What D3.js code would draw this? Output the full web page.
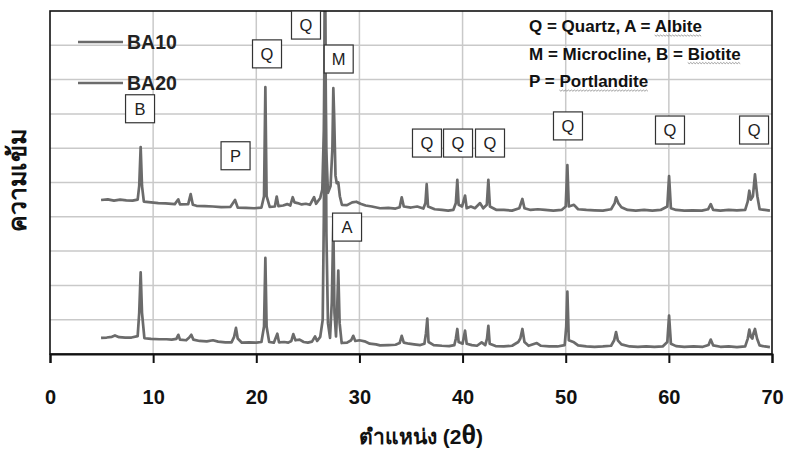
<!DOCTYPE html>
<html>
<head>
<meta charset="utf-8">
<script src="https://cdn.jsdelivr.net/npm/d3@7"></script>
<style>
  body { margin: 0; background: #fff; }
  svg text { font-family: "Liberation Sans", Arial, sans-serif; }
</style>
</head>
<body>
<div id="chart"></div>
<script>
// XRD patterns, [2theta, intensity] (intensity in grid units, BA10 is offset upward)
var ba10 = [[4.95,4.49],[5.6,4.51],[6.2,4.47],[6.8,4.5],[7.4,4.48],[8.0,4.47],[8.5,4.5],[8.65,4.9],[8.79,6.03],[8.92,4.9],[9.1,4.44],[9.8,4.42],[10.5,4.4],[11.2,4.39],[12.1,4.37],[12.44,4.51],[12.6,4.36],[13.4,4.37],[13.64,4.66],[13.85,4.35],[14.2,4.32],[15.0,4.31],[15.8,4.3],[16.6,4.28],[17.5,4.29],[17.94,4.49],[18.2,4.27],[19.0,4.26],[19.8,4.25],[20.5,4.27],[20.75,4.6],[20.88,7.78],[21.0,4.6],[21.3,4.29],[21.8,4.3],[21.98,4.59],[22.15,4.31],[22.6,4.33],[23.0,4.37],[23.3,4.33],[23.53,4.57],[23.7,4.42],[24.0,4.4],[24.4,4.36],[24.8,4.38],[25.2,4.35],[25.6,4.57],[25.8,4.38],[26.2,4.55],[26.4,4.79],[26.55,6.5],[26.66,10.6],[26.78,6.0],[26.95,4.7],[27.2,4.9],[27.38,6.0],[27.47,7.75],[27.55,6.92],[27.68,5.2],[27.8,4.98],[27.95,5.0],[28.1,4.6],[28.3,4.35],[28.8,4.34],[29.3,4.42],[29.7,4.44],[30.1,4.38],[30.6,4.33],[31.2,4.3],[32.0,4.25],[32.8,4.26],[33.5,4.24],[33.9,4.28],[34.1,4.57],[34.3,4.3],[35.0,4.27],[35.6,4.3],[36.2,4.24],[36.4,4.4],[36.52,4.95],[36.65,4.3],[37.3,4.22],[38.0,4.2],[38.6,4.18],[39.1,4.2],[39.35,4.4],[39.49,5.08],[39.62,4.35],[39.95,4.3],[40.24,4.62],[40.4,4.25],[40.8,4.3],[41.2,4.25],[41.7,4.4],[42.0,4.25],[42.35,4.35],[42.5,5.08],[42.65,4.3],[43.3,4.2],[44.0,4.2],[44.8,4.18],[45.5,4.25],[45.8,4.52],[46.0,4.25],[46.6,4.2],[47.3,4.22],[48.0,4.2],[48.8,4.18],[49.6,4.2],[50.0,4.3],[50.16,5.51],[50.3,4.3],[50.8,4.35],[51.2,4.22],[52.0,4.2],[52.8,4.19],[53.6,4.18],[54.4,4.22],[54.75,4.4],[54.88,4.57],[55.1,4.4],[55.4,4.28],[56.0,4.2],[56.8,4.18],[57.6,4.2],[58.4,4.18],[59.2,4.2],[59.85,4.3],[60.02,5.19],[60.2,4.25],[60.7,4.2],[61.5,4.18],[62.3,4.19],[63.2,4.18],[63.8,4.22],[64.06,4.37],[64.3,4.2],[65.0,4.18],[65.8,4.2],[66.6,4.19],[67.4,4.2],[67.65,4.45],[67.8,4.76],[67.95,4.5],[68.15,4.6],[68.35,5.24],[68.5,4.8],[68.58,4.6],[68.8,4.22],[69.3,4.2],[69.8,4.18]];

var ba20 = [[4.95,0.47],[5.5,0.48],[6.0,0.5],[6.3,0.54],[6.7,0.49],[7.3,0.48],[7.9,0.48],[8.5,0.52],[8.65,1.2],[8.79,2.38],[8.92,1.2],[9.15,0.46],[9.8,0.44],[10.6,0.43],[11.3,0.43],[11.8,0.42],[12.25,0.44],[12.44,0.56],[12.6,0.42],[13.2,0.4],[13.5,0.48],[13.7,0.56],[13.9,0.42],[14.5,0.38],[15.2,0.37],[15.8,0.4],[16.3,0.36],[17.0,0.34],[17.6,0.34],[17.85,0.5],[18.03,0.76],[18.2,0.45],[18.6,0.33],[19.3,0.34],[20.0,0.33],[20.5,0.35],[20.75,0.8],[20.88,2.8],[21.0,0.8],[21.25,0.35],[21.7,0.33],[22.04,0.59],[22.2,0.34],[22.7,0.35],[23.1,0.33],[23.4,0.38],[23.59,0.58],[23.8,0.4],[24.2,0.42],[24.6,0.35],[25.0,0.33],[25.4,0.36],[25.7,0.51],[25.9,0.38],[26.2,0.5],[26.44,1.0],[26.55,4.0],[26.66,10.6],[26.8,3.5],[26.95,0.9],[27.15,0.47],[27.32,1.5],[27.47,3.8],[27.58,1.2],[27.73,0.51],[27.85,1.4],[27.95,2.43],[28.08,0.9],[28.28,0.32],[28.8,0.33],[29.2,0.4],[29.4,0.53],[29.6,0.38],[30.0,0.4],[30.5,0.37],[31.0,0.3],[31.6,0.28],[32.0,0.25],[32.8,0.26],[33.5,0.27],[33.9,0.32],[34.1,0.53],[34.3,0.33],[34.8,0.3],[35.3,0.28],[35.9,0.26],[36.3,0.3],[36.45,0.6],[36.58,1.03],[36.7,0.35],[37.2,0.26],[38.0,0.24],[38.7,0.23],[39.2,0.26],[39.35,0.45],[39.49,0.73],[39.62,0.35],[40.0,0.3],[40.24,0.68],[40.4,0.3],[40.9,0.26],[41.4,0.24],[41.85,0.34],[42.2,0.26],[42.37,0.45],[42.5,0.82],[42.63,0.3],[43.2,0.23],[44.0,0.22],[44.8,0.24],[45.4,0.35],[45.6,0.45],[45.8,0.73],[46.0,0.35],[46.4,0.24],[47.2,0.32],[47.6,0.24],[48.4,0.22],[49.2,0.22],[49.9,0.26],[50.05,0.8],[50.16,1.82],[50.3,0.4],[50.8,0.34],[51.2,0.25],[52.0,0.22],[52.8,0.21],[53.6,0.22],[54.4,0.24],[54.7,0.4],[54.88,0.64],[55.05,0.4],[55.4,0.28],[56.2,0.22],[57.0,0.21],[57.8,0.22],[58.6,0.21],[59.4,0.22],[59.85,0.35],[60.02,1.12],[60.2,0.3],[60.7,0.23],[61.5,0.21],[62.4,0.22],[63.3,0.21],[63.85,0.26],[64.06,0.42],[64.3,0.25],[65.0,0.21],[65.8,0.22],[66.6,0.2],[67.4,0.22],[67.65,0.45],[67.8,0.71],[67.95,0.5],[68.1,0.45],[68.2,0.6],[68.35,0.73],[68.55,0.45],[68.8,0.25],[69.3,0.22],[69.8,0.2]];

var seriesNames = ["BA10", "BA20"];
var xTicks = [0, 10, 20, 30, 40, 50, 60, 70];

// phase letters, anchored at [2theta, intensity]
var phaseLetters = ["B", "P", "Q", "Q", "M", "A", "Q", "Q", "Q", "Q", "Q", "Q"];
var phaseAt = [[8.73,7.15],[17.99,5.78],[21.04,8.75],[24.82,9.59],[27.99,8.60],[28.8,3.70],[36.55,6.15],[39.56,6.15],[42.66,6.15],[50.22,6.65],[60.11,6.53],[68.26,6.53]];

// key text, pieces with a spell-check squiggle are flagged
var keyLines = [
  [["Q = Quartz, A = ", false], ["Albite", true]],
  [["M = Microcline, B = ", false], ["Biotite", true]],
  [["P = ", false], ["Portlandite", true]]
];

var W = 786, H = 460;
var margin = {left: 50, right: 14, top: 11, bottom: 106};
var lineColour = "#6b6b6b";

var svg = d3.select("#chart").append("svg").attr("width", W).attr("height", H);

var x = d3.scaleLinear().domain([0, 70]).range([margin.left, W - margin.right]);
var y = d3.scaleLinear().domain([0, 10]).range([H - margin.bottom, margin.top]);

//Gridlines
svg.append("g").selectAll("line.hg").data(d3.range(1, 10)).enter().append("line")
   .attr("x1", x(0)).attr("x2", x(70))
   .attr("y1", function(d){ return y(d); }).attr("y2", function(d){ return y(d); })
   .attr("stroke", "#c9c9c9").attr("stroke-width", 1.5);
svg.append("g").selectAll("line.vg").data(xTicks.slice(1, -1)).enter().append("line")
   .attr("x1", function(d){ return x(d); }).attr("x2", function(d){ return x(d); })
   .attr("y1", y(10)).attr("y2", y(0))
   .attr("stroke", "#c9c9c9").attr("stroke-width", 1.5);

//Clip for the traces (main quartz peak runs off the top)
svg.append("clipPath").attr("id", "plotClip").append("rect")
   .attr("x", x(0)).attr("y", y(10)).attr("width", x(70) - x(0)).attr("height", y(0) - y(10));

var line = d3.line().x(function(d){ return x(d[0]); }).y(function(d){ return y(d[1]); });
svg.append("g").attr("clip-path", "url(#plotClip)").selectAll("path")
   .data([ba20, ba10]).enter().append("path")
   .attr("d", line).attr("fill", "none")
   .attr("stroke", lineColour).attr("stroke-width", 2.7).attr("stroke-linejoin", "round");

//Frame
svg.append("rect").attr("x", x(0)).attr("y", y(10))
   .attr("width", x(70) - x(0)).attr("height", y(0) - y(10))
   .attr("fill", "none").attr("stroke", "#111").attr("stroke-width", 1.6);

//Bottom axis
var xAxis = d3.axisBottom(x).tickValues(xTicks).tickSize(9).tickPadding(27).tickFormat(d3.format("d"));
var ax = svg.append("g").attr("transform", "translate(0," + y(0) + ")").call(xAxis);
ax.select(".domain").attr("stroke", "#111").attr("stroke-width", 2);
ax.selectAll(".tick line").attr("stroke", "#111").attr("stroke-width", 2);
ax.selectAll(".tick text").attr("fill", "#111")
  .style("font-size", "20px").style("font-weight", "bold")
  .style("font-family", "'Liberation Sans', Arial, sans-serif");

//Axis titles
var xt = svg.append("text").attr("x", 421).attr("y", 444).attr("text-anchor", "middle")
   .attr("fill", "#111").style("font-size", "21px").style("font-weight", "bold");
xt.append("tspan").text("ตำแหน่ง (2");
xt.append("tspan").text("θ").style("font-size", "27px");
xt.append("tspan").text(")");

svg.append("text").attr("transform", "translate(26,180) rotate(-90)")
   .attr("text-anchor", "middle").attr("fill", "#111")
   .style("font-size", "25px").style("font-weight", "bold").text("ความเข้ม");

//Legend
var leg = svg.append("g").selectAll("g").data(seriesNames).enter().append("g")
   .attr("transform", function(d, i){ return "translate(78," + (42 + i * 41) + ")"; });
leg.append("line").attr("x1", 0).attr("x2", 45).attr("y1", 0).attr("y2", 0)
   .attr("stroke", lineColour).attr("stroke-width", 2.7);
leg.append("text").attr("x", 49).attr("y", 6.5).text(function(d){ return d; })
   .attr("fill", "#222").style("font-size", "19.5px").style("font-weight", "bold");

//Phase boxes
var boxes = svg.append("g").selectAll("g").data(phaseLetters).enter().append("g")
   .attr("transform", function(d, i){ return "translate(" + x(phaseAt[i][0]) + "," + y(phaseAt[i][1]) + ")"; });
boxes.append("rect").attr("x", -14.5).attr("y", -14).attr("width", 29).attr("height", 28)
   .attr("fill", "#fff").attr("stroke", "#333").attr("stroke-width", 1.2);
boxes.append("text").attr("text-anchor", "middle").attr("y", 6).text(function(d){ return d; })
   .attr("fill", "#222").style("font-size", "16.5px");

//Key (top right) with wavy underlines
var key = svg.append("g");
keyLines.forEach(function(parts, i){
   var t = key.append("text").attr("x", 529).attr("y", 32 + i * 27.5)
      .attr("fill", "#111").style("font-size", "17px").style("font-weight", "bold");
   parts.forEach(function(p){ t.append("tspan").text(p[0]); });
   var node = t.node(), start = 0;
   parts.forEach(function(p){
      if (p[1]) {
         var x0 = node.getStartPositionOfChar(start).x;
         var x1 = x0 + node.getSubStringLength(start, p[0].length);
         var yy = 32 + i * 27.5 + 3;
         var pts = d3.range(x0, x1, 1.5).map(function(v, k){ return [v, yy + (k % 2 ? 1.2 : 0)]; });
         key.append("path").attr("d", d3.line()(pts)).attr("fill", "none")
            .attr("stroke", "#888").attr("stroke-width", 0.8);
      }
      start += p[0].length;
   });
});
</script>
</body>
</html>
